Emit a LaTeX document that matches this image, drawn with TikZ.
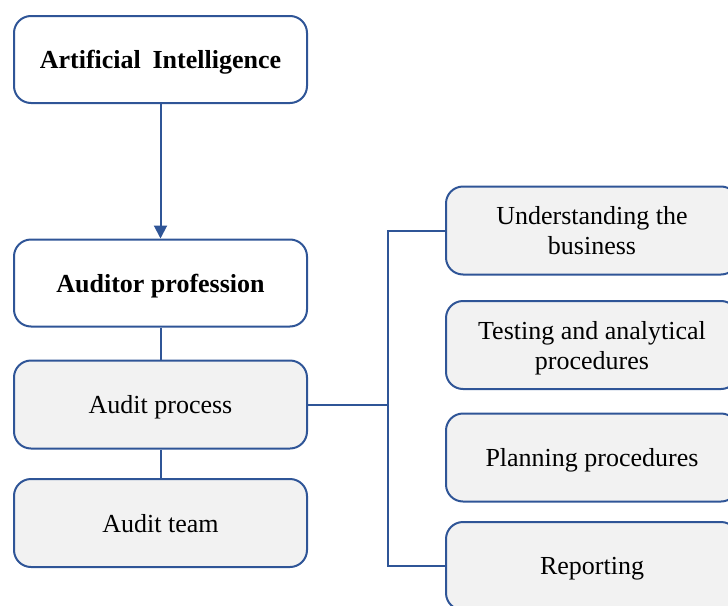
\documentclass[tikz,border=0pt]{standalone}
\usepackage{fontspec}
\setmainfont{Liberation Serif}
\usetikzlibrary{arrows.meta}
\definecolor{edgeblue}{HTML}{2F5597}
\definecolor{boxgrey}{HTML}{F2F2F2}
\tikzset{
  basebox/.style={draw=edgeblue, line width=2pt, rounded corners=17pt,
    align=center, inner sep=0pt, text depth=-1pt, font=\fontsize{26}{30}\selectfont},
  headbox/.style={basebox, fill=white, minimum width=293pt, minimum height=87pt,
    font=\fontsize{26}{30}\selectfont\bfseries},
  greybox/.style={basebox, fill=boxgrey, minimum width=293pt, minimum height=88pt},
  conn/.style={draw=edgeblue, line width=2pt},
  arrowconn/.style={conn, -{Triangle[width=13pt,length=13pt]}}
}
\begin{document}
\begin{tikzpicture}[x=1pt,y=-1pt]
  \useasboundingbox (0,0) rectangle (728,605);
  \clip (0,0) rectangle (728,605);

  % left column
  \node[headbox] (ai)  at (160.5,59.5) {Artificial\hspace{0.45em}Intelligence};
  \node[headbox] (prof) at (160.5,283) {Auditor profession};
  \node[greybox] (proc) at (160.5,404.5) {Audit process};
  \node[greybox] (team) at (160.5,523) {Audit team};

  % right column (boxes run past the right edge)
  \node[greybox, minimum width=292pt] (und)  at (592,230.5) {Understanding the\\business};
  \node[greybox, minimum width=292pt] (test) at (592,345)   {Testing and analytical\\procedures};
  \node[greybox, minimum width=292pt] (plan) at (592,457.5) {Planning procedures};
  \node[greybox, minimum width=292pt] (rep)  at (592,566)   {Reporting};

  % connectors
  \draw[arrowconn] (ai.south) -- (prof.north);
  \draw[conn] (prof.south) -- (proc.north);
  \draw[conn] (proc.south) -- (team.north);
  \coordinate (bus) at (388,404.5);
  \draw[conn] (proc.east) -- (bus);
  \draw[conn] (und.west) -| (bus) |- (rep.west);
\end{tikzpicture}
\end{document}
